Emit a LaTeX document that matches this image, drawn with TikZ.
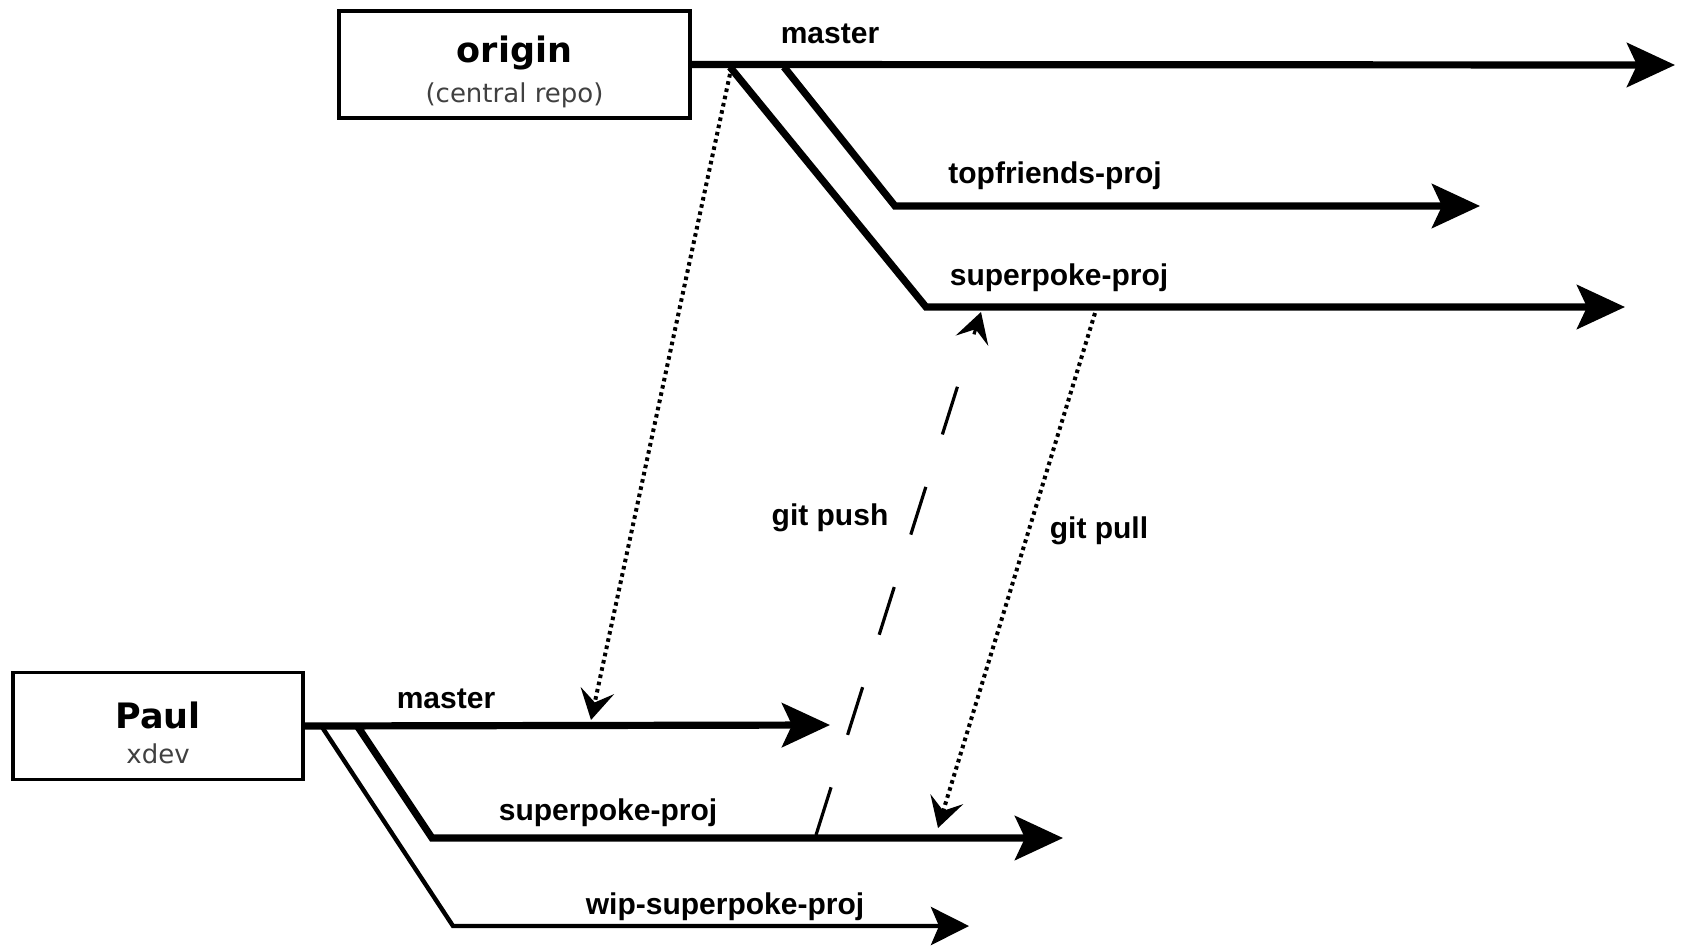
\documentclass[tikz,border=0pt]{standalone}
\usepackage{fontspec}
\setmainfont{Liberation Sans}
\newfontfamily\repofont{DejaVu Sans}
\usetikzlibrary{arrows.meta}

\begin{document}
\begin{tikzpicture}[x=0.5pt, y=-0.5pt,
    repo/.style={draw, line width=1.9pt, minimum width=#1, minimum height=53.5pt, inner sep=0pt, align=center, font=\repofont},
    branch/.style={line width=3.6pt, -{Stealth[length=24pt, width=22pt, inset=5pt]}},
    thinbranch/.style={line width=2.2pt, -{Stealth[length=19pt, width=19pt, inset=4pt]}},
    fetchline/.style={line width=2pt, dash pattern=on 1.8pt off 1.9pt, -{Stealth[length=15pt, width=17pt, inset=6pt]}},
    pushline/.style={line width=1.6pt, dash pattern=on 25pt off 27.5pt, -{Stealth[length=15pt, width=17pt, inset=6pt]}},
    lbl/.style={font=\bfseries\fontsize{15}{18}\selectfont, inner sep=0pt}]
  \useasboundingbox (0,0) rectangle (1684,948);

  \node[repo=175.5pt] (origin) at (514.5,64.5)
    {\rule{0pt}{20.5pt}{\bfseries\fontsize{17.5}{22}\selectfont origin}\\[5.6pt]{\color{black!75}\fontsize{13}{22}\selectfont (central repo)}};
  \node[repo=145pt] (paul) at (158,726)
    {\rule{0pt}{20.5pt}{\bfseries\fontsize{17.5}{22}\selectfont Paul}\\[5.6pt]{\color{black!75}\fontsize{13}{22}\selectfont xdev}};

  \coordinate (o-master) at (1675,65);
  \coordinate (o-fork-tf) at (784,67);
  \coordinate (o-bend-tf) at (895,206);
  \coordinate (o-topfriends) at (1480,206);
  \coordinate (o-fork-sp) at (730,67);
  \coordinate (o-bend-sp) at (926,307);
  \coordinate (o-superpoke) at (1625,307);
  \coordinate (p-master) at (830,725);
  \coordinate (p-fork-sp) at (358,727);
  \coordinate (p-bend-sp) at (432,838);
  \coordinate (p-superpoke) at (1063,838);
  \coordinate (p-fork-wip) at (322,727);
  \coordinate (p-bend-wip) at (453,926);
  \coordinate (p-wip) at (969,926);
  \coordinate (o-master-out) at (730,74);
  \coordinate (p-master-in) at (591,720);
  \coordinate (p-sp-out) at (816,835);
  \coordinate (o-sp-in) at (981,312);
  \coordinate (o-sp-out) at (1095,313);
  \coordinate (p-sp-in) at (938,828);

  \draw[branch] (origin.east) -- (o-master);
  \draw[branch] (o-fork-tf) -- (o-bend-tf) -- (o-topfriends);
  \draw[branch] (o-fork-sp) -- (o-bend-sp) -- (o-superpoke);
  \draw[branch] (paul.east) -- (p-master);
  \draw[branch] (p-fork-sp) -- (p-bend-sp) -- (p-superpoke);
  \draw[thinbranch] (p-fork-wip) -- (p-bend-wip) -- (p-wip);

  \draw[fetchline] (o-master-out) -- (p-master-in);
  \draw[fetchline] (o-sp-out) -- (p-sp-in);
  \draw[pushline] (p-sp-out) -- (o-sp-in);

  \node[lbl] (o-master-lbl) at (830,34) {master};
  \node[lbl] (o-topfriends-lbl) at (1055,176) {topfriends-proj};
  \node[lbl] (o-superpoke-lbl) at (1059,278) {superpoke-proj};
  \node[lbl] (p-master-lbl) at (446,699) {master};
  \node[lbl] (p-superpoke-lbl) at (608,813) {superpoke-proj};
  \node[lbl] (p-wip-lbl) at (725,907) {wip-superpoke-proj};
  \node[lbl] (push-lbl) at (830,518) {git push};
  \node[lbl] (pull-lbl) at (1099,531) {git pull};
\end{tikzpicture}
\end{document}
